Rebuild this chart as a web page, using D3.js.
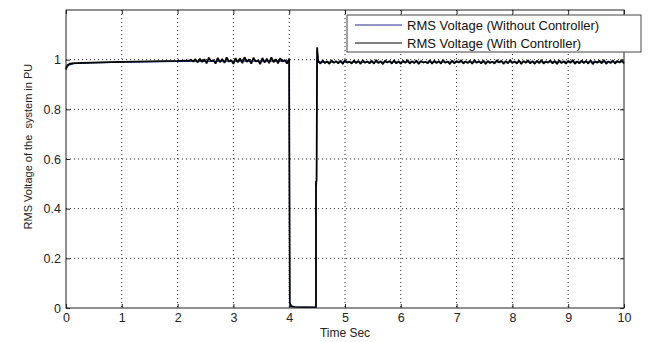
<!DOCTYPE html>
<html>
<head>
<meta charset="utf-8">
<script src="https://cdn.jsdelivr.net/npm/d3@7"></script>
<style>
  body { margin: 0; background: #fff; }
  svg { display: block; font-family: "Liberation Sans", Arial, sans-serif; }
</style>
</head>
<body>
<svg id="chart" width="648" height="342"></svg>
<script>
// x and y ticks
const xTicks = [0, 1, 2, 3, 4, 5, 6, 7, 8, 9, 10];
const yTicks = [0, 0.2, 0.4, 0.6, 0.8, 1];
const yTickLabels = ["0", "0.2", "0.4", "0.6", "0.8", "1"];

const legendLabels = ["RMS Voltage (Without Controller)", "RMS Voltage (With Controller)"];

// smooth start-up part (with controller)
const startTime = [0, 0.01, 0.03, 0.06, 0.1, 0.3, 0.6, 1.0, 1.5, 2.0, 2.2];
const startVolt = [0.962, 0.972, 0.979, 0.983, 0.985, 0.987, 0.989, 0.991, 0.993, 0.995, 0.996];

// noisy part before the fault, sampled every 0.04 s from 2.24 s
const preFaultStart = 2.24;
const noisyStep = 0.04;
const preFaultVolt = [1.000, 0.992, 1.002, 0.989, 1.004, 0.991, 1.002, 0.985, 1.008, 0.993, 0.999, 0.984,
  1.007, 0.990, 1.003, 0.987, 1.009, 0.992, 0.998, 0.983, 1.006, 0.989, 1.005, 0.986, 1.010, 0.991, 1.001,
  0.984, 1.008, 0.993, 0.997, 0.982, 1.007, 0.988, 1.004, 0.986, 1.009, 0.990, 1.002, 0.985, 1.006, 0.992,
  0.999, 0.984, 1.003];

// fault and recovery (with controller)
const faultTime = [4.0, 4.0, 4.01, 4.03, 4.1, 4.3, 4.47, 4.48, 4.48, 4.49, 4.5];
const faultVolt = [0.996, 0.912, 0.02, 0.006, 0.004, 0.003, 0.003, 0.003, 0.51, 0.51, 1.05];

// noisy part after the fault, sampled every 0.04 s from 4.52 s
const postFaultStart = 4.52;
const postFaultVolt = [
  0.995, 0.984, 0.997, 0.986, 0.993, 0.983, 0.998, 0.987, 0.994, 0.985,
  0.996, 0.982, 0.999, 0.988, 0.992, 0.984, 0.997, 0.986, 0.995, 0.983,
  0.998, 0.987, 0.993, 0.985, 0.996, 0.984, 0.999, 0.986, 0.994, 0.982,
  0.997, 0.988, 0.995, 0.984, 0.998, 0.985, 0.993, 0.983, 0.996, 0.987,
  0.999, 0.984, 0.994, 0.986, 0.997, 0.982, 0.995, 0.988, 0.992, 0.985,
  0.998, 0.983, 0.996, 0.986, 0.994, 0.984, 0.999, 0.987, 0.993, 0.982,
  0.997, 0.985, 0.995, 0.988, 0.998, 0.984, 0.993, 0.986, 0.996, 0.983,
  0.999, 0.987, 0.994, 0.985, 0.997, 0.982, 0.995, 0.986, 0.992, 0.984,
  0.998, 0.988, 0.996, 0.983, 0.994, 0.985, 0.999, 0.986, 0.993, 0.984,
  0.997, 0.982, 0.995, 0.987, 0.998, 0.985, 0.994, 0.983, 0.996, 0.986,
  0.999, 0.984, 0.993, 0.988, 0.997, 0.985, 0.995, 0.982, 0.998, 0.986,
  0.994, 0.984, 0.996, 0.987, 0.999, 0.983, 0.993, 0.985, 0.997, 0.986,
  0.995, 0.984, 0.998, 0.982, 0.994, 0.987, 0.996, 0.985, 0.999, 0.983,
  0.993, 0.986, 0.997, 0.984, 0.995, 0.988, 0.998, 0.985];

// without controller (mostly hidden under the other line)
const noCtrlTime = [0, 0.02, 0.05, 0.15, 1.0, 2.0, 4.0, 4.0, 4.01, 4.05, 4.1, 4.48, 4.48, 4.49, 4.5, 4.52, 10];
const noCtrlVolt = [0.958, 0.97, 0.978, 0.985, 0.99, 0.993, 0.995, 0.9, 0.02, 0.009, 0.005, 0.003, 0.5, 0.5, 1.04, 0.99, 0.991];

function renderChart() {
  const margin = { top: 10, right: 24, bottom: 34, left: 66 };
  const width = 648 - margin.left - margin.right;
  const height = 342 - margin.top - margin.bottom;

  const svg = d3.select("#chart")
    .append("g")
    .attr("transform", `translate(${margin.left},${margin.top})`);

  const x = d3.scaleLinear().domain([0, 10]).range([0, width]);
  const y = d3.scaleLinear().domain([0, 1.2]).range([height, 0]);

  // build series
  const withCtrl = [];
  startTime.forEach((t, i) => withCtrl.push([t, startVolt[i]]));
  preFaultVolt.forEach((v, i) => withCtrl.push([preFaultStart + i * noisyStep, v]));
  faultTime.forEach((t, i) => withCtrl.push([t, faultVolt[i]]));
  postFaultVolt.forEach((v, i) => withCtrl.push([postFaultStart + i * noisyStep, v]));
  const noCtrl = noCtrlTime.map((t, i) => [t, noCtrlVolt[i]]);

  // grid
  svg.append("g")
    .selectAll("line")
    .data(xTicks.slice(1, -1))
    .join("line")
    .attr("x1", d => x(d)).attr("x2", d => x(d))
    .attr("y1", 0).attr("y2", height)
    .attr("stroke", "#222")
    .attr("stroke-dasharray", "1,3");

  svg.append("g")
    .selectAll("line")
    .data(yTicks.slice(1))
    .join("line")
    .attr("x1", 0).attr("x2", width)
    .attr("y1", d => y(d)).attr("y2", d => y(d))
    .attr("stroke", "#222")
    .attr("stroke-dasharray", "1,3");

  const line = d3.line().x(d => x(d[0])).y(d => y(d[1]));

  svg.append("path")
    .datum(noCtrl)
    .attr("fill", "none")
    .attr("stroke", "#1f2f8f")
    .attr("stroke-width", 1.2)
    .attr("d", line);

  svg.append("path")
    .datum(withCtrl)
    .attr("fill", "none")
    .attr("stroke", "#000")
    .attr("stroke-width", 1.7)
    .attr("stroke-linejoin", "bevel")
    .attr("d", line);

  // axes (MATLAB style: ticks inside)
  const xAxis = svg.append("g")
    .attr("transform", `translate(0,${height})`)
    .call(d3.axisBottom(x).tickValues(xTicks).tickFormat(d3.format("d")).tickSizeInner(-4).tickSizeOuter(0).tickPadding(5));
  const yAxis = svg.append("g")
    .call(d3.axisLeft(y).tickValues(yTicks).tickFormat((d, i) => yTickLabels[i]).tickSizeInner(-4).tickSizeOuter(0).tickPadding(5));
  svg.append("g")
    .call(d3.axisTop(x).tickValues(xTicks).tickFormat("").tickSizeInner(-4).tickSizeOuter(0));
  svg.append("g")
    .attr("transform", `translate(${width},0)`)
    .call(d3.axisRight(y).tickValues(yTicks).tickFormat("").tickSizeInner(-4).tickSizeOuter(0));

  svg.selectAll(".domain").remove();
  svg.selectAll(".tick line").attr("stroke", "#222");
  [xAxis, yAxis].forEach(a => a.selectAll("text")
    .style("font-family", "Liberation Sans, Arial, sans-serif")
    .style("font-size", "12.5px")
    .attr("fill", "#222"));

  // plot box
  svg.append("rect")
    .attr("width", width).attr("height", height)
    .attr("fill", "none")
    .attr("stroke", "#222");

  // axis labels
  svg.append("text")
    .attr("text-anchor", "middle")
    .attr("x", x(5)).attr("y", height + 29)
    .style("font-size", "12px")
    .attr("fill", "#222")
    .text("Time Sec");

  svg.append("text")
    .attr("text-anchor", "middle")
    .attr("transform", `translate(${-margin.left + 32}, ${y(0.65)}) rotate(-90)`)
    .style("font-size", "11px")
    .style("white-space", "pre")
    .attr("fill", "#222")
    .text("RMS Voltage of the  system in PU");

  // legend
  const legend = d3.select("#chart").append("g").attr("transform", "translate(347,15)");
  legend.append("rect")
    .attr("width", 294).attr("height", 37)
    .attr("fill", "#fff")
    .attr("stroke", "#444");
  const colors = ["#1f2f8f", "#000"];
  legendLabels.forEach((lab, i) => {
    const row = legend.append("g").attr("transform", `translate(0,${10 + i * 18})`);
    row.append("line")
      .attr("x1", 8).attr("x2", 55)
      .attr("stroke", colors[i]);
    row.append("text")
      .attr("x", 60).attr("dy", "0.35em")
      .style("font-size", "13px")
      .attr("fill", "#111")
      .text(lab);
  });
}

renderChart();
</script>
</body>
</html>
